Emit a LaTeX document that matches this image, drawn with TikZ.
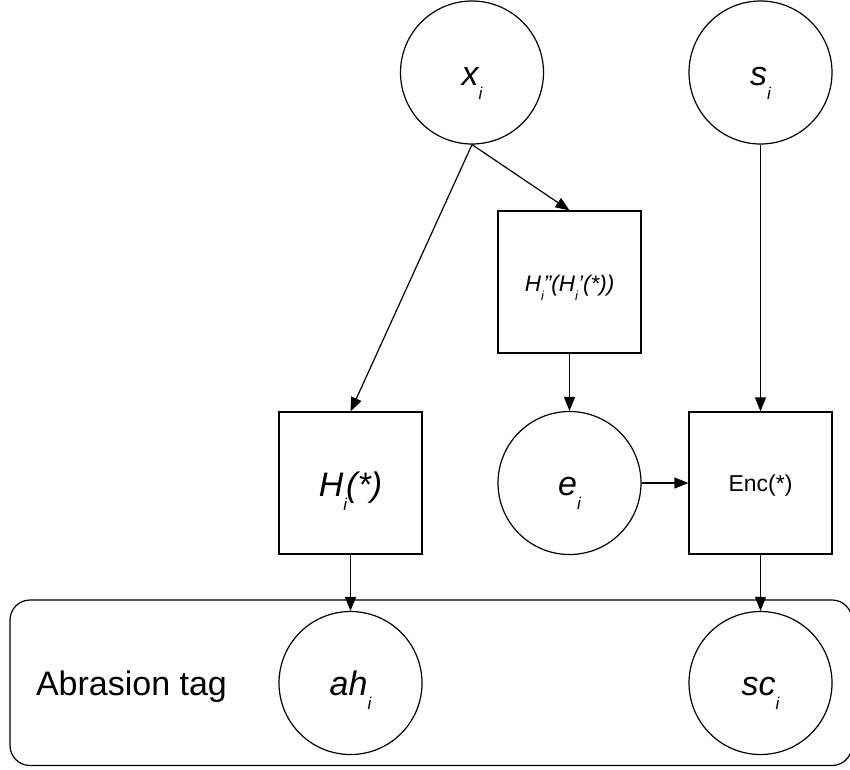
\documentclass[tikz,border=0pt]{standalone}
\usepackage{fontspec}
\setmainfont{Liberation Sans}
\usetikzlibrary{arrows.meta}
\newcommand\mysub[2]{\raisebox{-#2}{\fontsize{#1}{#1}\selectfont i}}
\begin{document}
\begin{tikzpicture}[x=1pt,y=1pt,
  line width=1.2pt,
  every node/.style={inner sep=0pt},
  circ/.style={draw, circle, minimum size=143pt, fill=white},
  sq/.style={draw, rectangle, minimum width=143pt, minimum height=142pt, fill=white},
  big/.style={font=\fontsize{34}{40}\selectfont\itshape, text height=25pt, text depth=0pt},
  arr/.style={-{Triangle[length=14pt,width=11pt]}, line width=1.2pt}]
\useasboundingbox (0,0) rectangle (850,-769);
\node[draw, rounded corners=20pt, minimum width=842pt, minimum height=165.5pt] (grp) at (431,-682.75) {};
\node[font=\fontsize{34}{40}\selectfont, text height=24pt, text depth=0pt] (tag) at (131.5,-683) {Abrasion tag};
\node[circ, big] (x) at (472,-72.5) {x\mysub{17pt}{14pt}};
\node[circ, big] (s) at (760.5,-72.5) {s\mysub{17pt}{14pt}};
\node[sq, font=\fontsize{22.5}{26}\selectfont\itshape, text height=18pt, text depth=0pt] (hpp) at (569.5,-282)
  {H\mysub{13pt}{9pt}"(H\mysub{13pt}{9pt}'(*))};
\node[sq, big, text height=27pt] (hi) at (350.5,-483) {H\mysub{17pt}{14pt}\kern-1pt(*)};
\node[circ, big, text height=24pt] (e) at (569.5,-483) {e\mysub{17pt}{14pt}};
\node[sq, font=\fontsize{23}{26}\selectfont, text height=17.4pt, text depth=0pt] (enc) at (760.5,-483) {Enc(*)};
\node[circ, big, text height=24pt] (ah) at (350.5,-683) {ah\mysub{17pt}{14pt}};
\node[circ, big, text height=24pt] (sc) at (760.5,-683) {sc\mysub{17pt}{14pt}};
\draw[arr] (x.south) -- (hi.north);
\draw[arr] (x.south) -- (hpp.north);
\draw[arr] (hpp.south) -- (e.north);
\draw[arr] (s.south) -- (enc.north);
\draw[arr] (e.east) -- (enc.west);
\draw[arr] (hi.south) -- (ah.north);
\draw[arr] (enc.south) -- (sc.north);
\end{tikzpicture}
\end{document}
